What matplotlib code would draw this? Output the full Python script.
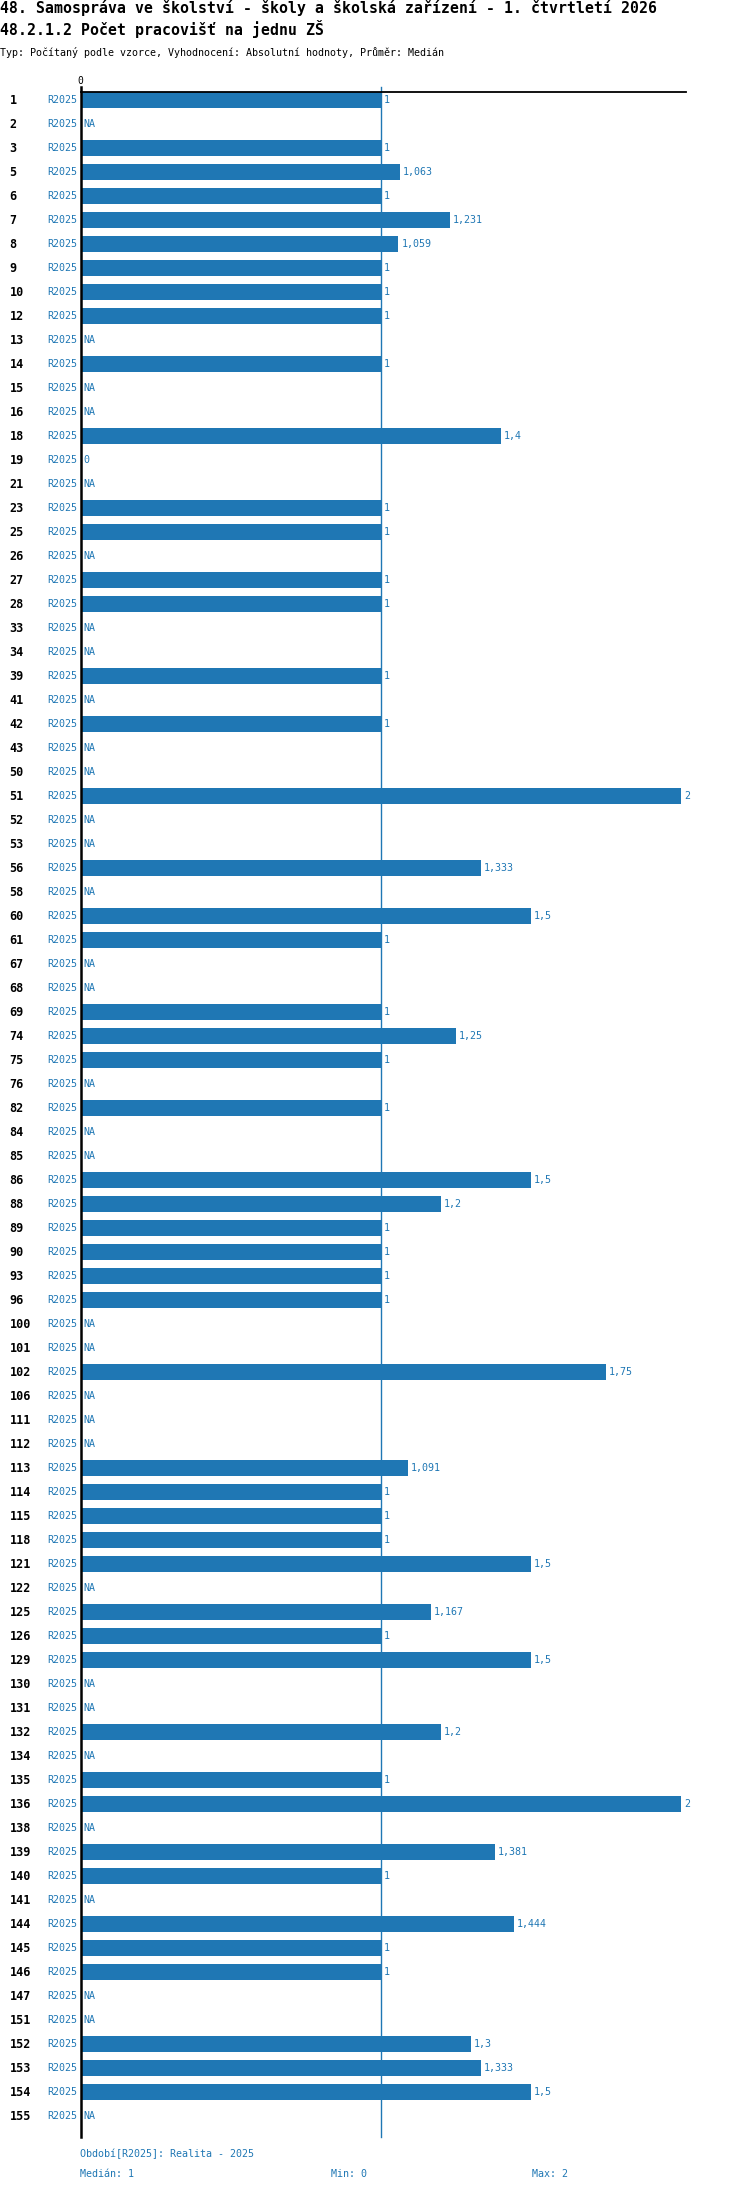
import matplotlib
matplotlib.use("Agg")
import matplotlib.pyplot as plt
import numpy as np

categories = ["1","2","3","5","6","7","8","9","10","12","13","14","15","16","18","19","21","23","25","26",
              "27","28","33","34","39","41","42","43","50","51","52","53","56","58","60","61","67","68","69","74",
              "75","76","82","84","85","86","88","89","90","93","96","100","101","102","106","111","112","113","114","115",
              "118","121","122","125","126","129","130","131","132","134","135","136","138","139","140","141","144","145","146","147",
              "151","152","153","154","155"]
NA = None
values = [1, NA, 1, 1.063, 1, 1.231, 1.059, 1, 1, 1, NA, 1, NA, NA, 1.4, 0, NA, 1, 1, NA,
          1, 1, NA, NA, 1, NA, 1, NA, NA, 2, NA, NA, 1.333, NA, 1.5, 1, NA, NA, 1, 1.25,
          1, NA, 1, NA, NA, 1.5, 1.2, 1, 1, 1, 1, NA, NA, 1.75, NA, NA, NA, 1.091, 1, 1,
          1, 1.5, NA, 1.167, 1, 1.5, NA, NA, 1.2, NA, 1, 2, NA, 1.381, 1, NA, 1.444, 1, 1, NA,
          NA, 1.3, 1.333, 1.5, NA]
period = "R2025"
median_val = 1
min_val = 0
max_val = 2

title1 = "48. Samospráva ve školství - školy a školská zařízení - 1. čtvrtletí 2026"
title2 = "48.2.1.2 Počet pracovišť na jednu ZŠ"
subtitle = "Typ: Počítaný podle vzorce, Vyhodnocení: Absolutní hodnoty, Průměr: Medián"
footer1 = "Období[R2025]: Realita - 2025"

BLUE = "#1f77b4"
MONO = ["DejaVu Sans Mono"]

W, H = 750, 2192
fig = plt.figure(figsize=(W/100, H/100), dpi=100)

def fy(px):
    return 1 - px / H

ax_left, ax_right = 80.5, 686
ax_top, ax_bot = 92, 2132
ax = fig.add_axes([ax_left/W, fy(ax_bot), (ax_right-ax_left)/W, (ax_bot-ax_top)/H])

n = len(categories)
pos = np.arange(n)
row0 = 100.4
step = 24.0
ylim_top = (ax_top - row0) / step
ylim_bot = (ax_bot - row0) / step
xmax = 2 * (ax_right - ax_left) / (681 - ax_left)

bar_vals = [v if v is not None else 0 for v in values]
ax.barh(pos, bar_vals, height=0.66, color=BLUE, zorder=2)
ax.set_xlim(0, xmax)
ax.set_ylim(ylim_bot, ylim_top)
for s in ax.spines.values():
    s.set_visible(False)
ax.set_xticks([])
ax.set_yticks([])

ext = 5 / (ax_bot - ax_top)
ax.plot([0, 0], [-ext, 1 + ext], transform=ax.get_xaxis_transform(), color="black", lw=1.8, clip_on=False, zorder=4)
ax.plot([median_val, median_val], [-ext, 1 + ext], transform=ax.get_xaxis_transform(), color=BLUE, lw=1.0, clip_on=False, zorder=3)
ax.plot([0, 1], [1, 1], transform=ax.transAxes, color="black", lw=1.3, clip_on=False, zorder=4)
ax.text(0, 1 + 11/(ax_bot-ax_top), "0", transform=ax.get_xaxis_transform(), ha="center", va="center",
        fontsize=7, family=MONO, color="black")

ytr = ax.get_yaxis_transform()
def axx(px):
    return (px - ax_left) / (ax_right - ax_left)

off = 3 / (300.25)
for i, (c, v) in enumerate(zip(categories, values)):
    ax.text(axx(9.5), i, c, transform=ytr, ha="left", va="center", fontsize=8.5,
            fontweight="bold", family=MONO, color="black", clip_on=False)
    ax.text(axx(77.5), i, period, transform=ytr, ha="right", va="center", fontsize=7.2,
            family=MONO, color=BLUE, clip_on=False)
    if v is None:
        lab, xv = "NA", 0
    else:
        lab = ("%g" % v).replace(".", ",")
        xv = v
    ax.text(xv + off, i, lab, ha="left", va="center", fontsize=7.2, family=MONO, color=BLUE)

fig.text(0.0, fy(13.5), title1, ha="left", va="baseline", fontsize=10.75, fontweight="bold", family=MONO, color="black")
fig.text(0.0, fy(35), title2, ha="left", va="baseline", fontsize=10.75, fontweight="bold", family=MONO, color="black")
fig.text(0.0, fy(55.5), subtitle, ha="left", va="baseline", fontsize=7.2, family=MONO, color="black")

fig.text(80/W, fy(2154), footer1, ha="left", va="center", fontsize=7.2, family=MONO, color=BLUE)
fig.text(80/W, fy(2174), "Medián: %g" % median_val, ha="left", va="center", fontsize=7.2, family=MONO, color=BLUE)
fig.text(331/W, fy(2174), "Min: %g" % min_val, ha="left", va="center", fontsize=7.2, family=MONO, color=BLUE)
fig.text(532/W, fy(2174), "Max: %g" % max_val, ha="left", va="center", fontsize=7.2, family=MONO, color=BLUE)

fig.savefig("out.png", dpi=100)
